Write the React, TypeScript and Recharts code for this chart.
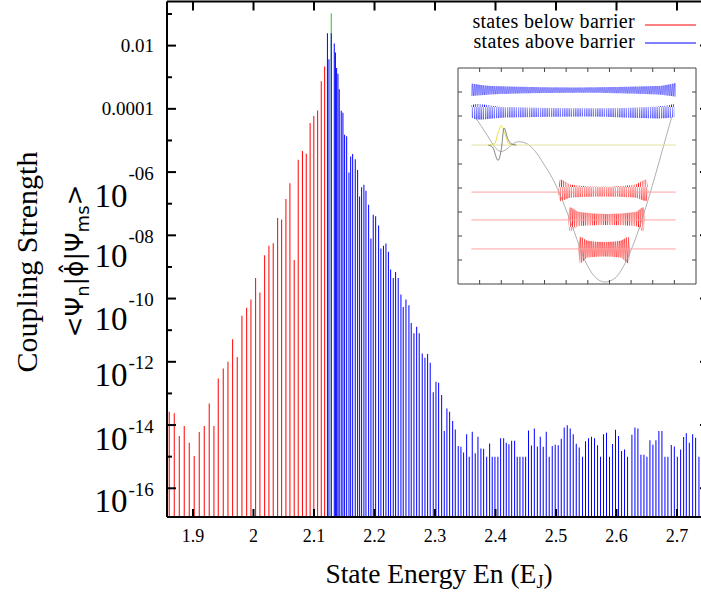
import React from 'react';
import { ComposedChart, Bar, Cell, XAxis, YAxis, Legend, Line, Area } from 'recharts';

const SERIF = '"Liberation Serif", "Times New Roman", serif';
const SANS = '"DejaVu Sans", "Noto Sans", sans-serif';

// ---------------- main chart data: [energy (E_J), log10(coupling strength)] ----------------
const metastableState: [number, number][] = [[2.1286, -0.98]];

const belowBarrier: [number, number][] = [
  [1.8608, -13.58], [1.8691, -13.63], [1.8774, -14.35], [1.8856, -14.03], [1.8939, -14.56],
  [1.9021, -14.98], [1.9104, -14.22], [1.9187, -14.03], [1.9269, -13.32], [1.9347, -14.03],
  [1.9418, -12.53], [1.9501, -12.21], [1.9579, -12.0], [1.9656, -11.29], [1.9732, -11.85],
  [1.981, -10.54], [1.9888, -10.29], [1.9959, -10.03], [2.0036, -9.35], [2.0107, -9.81],
  [2.0185, -8.63], [2.0256, -8.33], [2.0327, -8.25], [2.04, -7.45], [2.0466, -7.5],
  [2.0537, -6.85], [2.0603, -6.35], [2.0674, -8.78], [2.074, -5.61], [2.081, -5.33],
  [2.0873, -5.42], [2.0937, -4.45], [2.0998, -4.23], [2.1061, -4.05], [2.1121, -3.13],
  [2.1177, -2.66],
];

const aboveBarrier: [number, number][] = [
  [2.1223, -1.61], [2.1248, -2.43], [2.1286, -1.61], [2.1336, -1.93], [2.1355, -2.22],
  [2.1375, -2.71], [2.1397, -2.89], [2.1418, -3.38], [2.1451, -4.06], [2.1479, -4.12],
  [2.1507, -4.82], [2.1541, -4.87], [2.1579, -6.01], [2.1607, -5.51], [2.164, -5.43],
  [2.1683, -5.59], [2.1722, -5.93], [2.1755, -6.77], [2.1788, -6.48], [2.1826, -6.4],
  [2.186, -6.59], [2.1904, -7.03], [2.1942, -8.1], [2.198, -7.35], [2.202, -7.4],
  [2.2069, -7.69], [2.2107, -8.42], [2.2149, -8.33], [2.219, -8.26], [2.2231, -8.52],
  [2.2268, -9.08], [2.2311, -9.35], [2.235, -9.16], [2.2393, -9.35], [2.2438, -9.87],
  [2.2476, -10.27], [2.2521, -10.03], [2.257, -10.21], [2.2608, -10.77], [2.2653, -11.1],
  [2.2698, -10.89], [2.274, -11.1], [2.279, -11.74], [2.2835, -11.87], [2.2879, -11.75],
  [2.2922, -12.03], [2.2972, -12.96], [2.3017, -12.63], [2.3061, -12.66], [2.3111, -13.05],
  [2.3154, -14.19], [2.3198, -13.48], [2.3243, -13.58], [2.3293, -13.87], [2.3336, -14.14],
  [2.3385, -14.66], [2.343, -14.69], [2.3474, -14.87], [2.3524, -14.29], [2.3567, -15.0],
  [2.3617, -14.21], [2.3666, -14.89], [2.3711, -14.37], [2.376, -14.74], [2.3805, -14.75],
  [2.3855, -15.0], [2.3904, -14.58], [2.3947, -15.0], [2.3992, -15.0], [2.4041, -15.0],
  [2.4086, -14.42], [2.4136, -14.42], [2.4179, -14.56], [2.4223, -14.61], [2.4268, -14.5],
  [2.4317, -14.5], [2.436, -15.0], [2.4405, -15.0], [2.4455, -15.0], [2.4499, -15.0],
  [2.4547, -14.17], [2.4595, -14.65], [2.4643, -14.11], [2.4693, -14.68], [2.4741, -14.37],
  [2.479, -14.69], [2.484, -14.21], [2.4889, -15.0], [2.4939, -14.66], [2.4988, -14.62],
  [2.5038, -14.64], [2.5088, -14.43], [2.5137, -14.08], [2.5187, -14.01], [2.5236, -14.11],
  [2.5286, -14.29], [2.5336, -14.59], [2.5385, -14.71], [2.544, -15.0], [2.5489, -14.51],
  [2.5539, -14.42], [2.5588, -14.37], [2.5638, -14.42], [2.5688, -14.64], [2.5737, -15.0],
  [2.5787, -14.29], [2.5836, -14.24], [2.5886, -15.0], [2.5936, -14.6], [2.5985, -14.15],
  [2.6035, -14.35], [2.6085, -14.82], [2.6134, -14.77], [2.6184, -15.0], [2.6256, -14.31],
  [2.6306, -14.08], [2.6355, -14.11], [2.6405, -14.94], [2.6455, -14.94], [2.6504, -15.0],
  [2.6554, -14.48], [2.6603, -14.62], [2.6653, -14.48], [2.6702, -14.19], [2.6752, -14.19],
  [2.6802, -15.0], [2.6851, -15.0], [2.6907, -14.63], [2.6957, -14.68], [2.7007, -15.0],
  [2.7061, -14.77], [2.7111, -14.38], [2.7155, -14.26], [2.7205, -14.56], [2.726, -14.29],
  [2.7309, -14.4], [2.7364, -15.0],
];

const energyTicks = [1.9, 2.0, 2.1, 2.2, 2.3, 2.4, 2.5, 2.6, 2.7];
const energyTickLabels = ['1.9', '2', '2.1', '2.2', '2.3', '2.4', '2.5', '2.6', '2.7'];
const couplingTickExponents = [-1, -2, -3, -4, -5, -6, -7, -8, -9, -10, -11, -12, -13, -14, -15, -16];
const couplingTickLabels = ['', '0.01', '', '0.0001', '', '10^-06', '', '10^-08', '', '10^-10', '', '10^-12', '', '10^-14', '', '10^-16'];

const seriesLabels = ['states below barrier', 'states above barrier'];
const seriesColors: Record<string, string> = { ms: '#22cc22', below: '#ff0000', above: '#0000ff' };

// vertical offset of the "10" base below its tick, per power label (styling)
const powerBaseDy: Record<string, number> = { '-06': 35, '-08': 32, '-10': 31, '-12': 24, '-14': 25, '-16': 24 };

// ---------------- inset data (schematic potential and wavefunctions) ----------------
const insetXTicks = [1, 2, 3, 4, 5, 6, 7, 8, 9, 10];
const insetYTicks = [1, 2, 3, 4, 5, 6, 7, 8];
const potentialCurve: [number, number][] = [
  [0.77, 6.97], [1.1, 6.55], [1.45, 6.05], [1.75, 5.65], [2.0, 5.52], [2.25, 5.62], [2.55, 5.85],
  [2.8, 5.93], [3.1, 5.88], [3.5, 5.6], [4.0, 4.95], [4.48, 4.2], [4.94, 3.22], [5.4, 2.11],
  [5.79, 1.14], [6.33, 0.3], [6.79, 0.08], [7.25, 0.24], [7.72, 0.86], [8.18, 1.83], [8.64, 3.08],
  [9.1, 4.47], [9.49, 5.72], [9.88, 6.97],
];
const metastableLevel = 5.79;
const lowLevels = [3.83, 2.67, 1.46];
const levelSpan = [0.62, 10.06];
const redBands: [number, number, number][][] = [
  [[4.63, 3.83, 3.83], [4.72, 3.45, 4.35], [5.2, 3.6, 4.15], [6.7, 3.65, 4.05], [8.2, 3.6, 4.15], [8.7, 3.45, 4.35], [8.8, 3.83, 3.83]],
  [[5.09, 2.67, 2.67], [5.17, 2.2, 3.2], [5.6, 2.42, 3.0], [6.9, 2.46, 2.92], [8.2, 2.42, 3.0], [8.57, 2.2, 3.2], [8.64, 2.67, 2.67]],
  [[5.56, 1.46, 1.46], [5.64, 0.86, 1.97], [6.0, 1.1, 1.8], [6.75, 1.15, 1.75], [7.5, 1.1, 1.8], [7.88, 0.86, 1.97], [7.95, 1.46, 1.46]],
];
const blueBands: [number, number, number][][] = [
  [[0.62, 7.83, 8.35], [1.5, 7.9, 8.25], [5.5, 7.97, 8.19], [9.2, 7.9, 8.25], [10.06, 7.8, 8.38]],
  [[0.62, 6.95, 7.45], [0.9, 6.85, 7.5], [2.0, 6.93, 7.38], [6.0, 6.98, 7.32], [9.3, 6.9, 7.4], [10.0, 6.95, 7.5]],
];
const msWaveYellow: [number, number][] = [[1.45, 5.79], [1.7, 5.85], [1.85, 6.3], [2.0, 6.6], [2.15, 6.3], [2.35, 5.85], [2.6, 5.79]];
const msWaveGray: [number, number][] = [[1.4, 5.79], [1.6, 5.7], [1.85, 5.15], [2.0, 5.6], [2.13, 6.5], [2.3, 6.05], [2.5, 5.82], [2.7, 5.79]];

// ---------------- derived tables ----------------
type Row = { energy: number; coupling: number; group: string };
const toRows = (pairs: [number, number][], group: string): Row[] =>
  pairs.map(([energy, logC]) => ({ energy, coupling: Math.pow(10, logC), group }));
const tableData: Row[] = [
  ...toRows(metastableState, 'ms'),
  ...toRows(belowBarrier, 'below'),
  ...toRows(aboveBarrier, 'above'),
];
const couplingTicks = couplingTickExponents.map((e) => Math.pow(10, e));
const X_DOMAIN: [number, number] = [1.857, 2.7529];
const Y_DOMAIN: [number, number] = [Math.pow(10, -16.908), Math.pow(10, -0.605)];

const pts = (arr: [number, number][]) => arr.map(([x, y]) => ({ x, y }));
const bandPts = (arr: [number, number, number][]) => arr.map(([x, lo, hi]) => ({ x, range: [lo, hi] }));
const hLine = (level: number) => [{ x: levelSpan[0], y: level }, { x: levelSpan[1], y: level }];

// ---------------- tick renderers ----------------
const labelForExp = (v: number) => {
  const e = Math.round(Math.log10(v));
  const i = couplingTickExponents.indexOf(e);
  return i >= 0 ? couplingTickLabels[i] : '';
};

const XTickBottom = (props: any) => {
  const { x, y, payload } = props;
  const i = energyTicks.findIndex((t) => Math.abs(t - payload.value) < 1e-9);
  return (
    <g>
      <line x1={x} x2={x} y1={y} y2={y - 8} stroke="#000" strokeWidth={2} />
      <text x={x} y={y + 25} textAnchor="middle" fontFamily={SERIF} fontSize={18} fill="#000">
        {i >= 0 ? energyTickLabels[i] : ''}
      </text>
    </g>
  );
};

const XTickTop = (props: any) => {
  const { x, y } = props;
  return <line x1={x} x2={x} y1={y} y2={y + 9} stroke="#000" strokeWidth={2} />;
};

const YTickLeft = (props: any) => {
  const { x, y, payload } = props;
  const label = labelForExp(payload.value);
  const major = label !== '';
  let text: React.ReactNode = null;
  if (label.startsWith('10^')) {
    const sup = label.slice(3);
    text = (
      <>
        <text x={x - 39.5} y={y + (powerBaseDy[sup] ?? 30)} textAnchor="end" fontFamily={SERIF} fontSize={33} fill="#000">10</text>
        <text x={x - 38.5} y={y + 7.5} textAnchor="start" fontFamily={SERIF} fontSize={19} fill="#000">{sup}</text>
      </>
    );
  } else if (label) {
    text = (
      <text x={x - 13} y={y + 6.5} textAnchor="end" fontFamily={SERIF} fontSize={19} fill="#000">{label}</text>
    );
  }
  return (
    <g>
      <line x1={x} x2={x + (major ? 9 : 5)} y1={y} y2={y} stroke="#000" strokeWidth={2} />
      {text}
    </g>
  );
};

const YTickRight = (props: any) => {
  const { x, y, payload } = props;
  const major = labelForExp(payload.value) !== '';
  return <line x1={x} x2={x - (major ? 9 : 5)} y1={y} y2={y} stroke="#000" strokeWidth={2} />;
};

const XTitle = () => (
  <text x={439} y={583} textAnchor="middle" fontFamily={SERIF} fontSize={27.5} fill="#000">
    State Energy En (E<tspan fontSize={18} dy={5}>J</tspan><tspan dy={-5}>)</tspan>
  </text>
);

const YTitle = () => (
  <g>
    <text transform="rotate(-90 37 262)" x={37} y={262} textAnchor="middle" fontFamily={SERIF} fontSize={30} fill="#000">
      Coupling Strength
    </text>
    <text transform="rotate(-90 83 261)" x={83} y={261} textAnchor="middle" fontFamily={SANS} fontSize={25} fill="#000">
      {'<\u03A8'}
      <tspan fontSize={18} dy={6}>n</tspan>
      <tspan dy={-6}>{'|\u03D5\u0302|\u03A8'}</tspan>
      <tspan fontSize={18} dy={6}>ms</tspan>
      <tspan dy={-6}>{'>'}</tspan>
    </text>
  </g>
);

const LegendBox = () => (
  <svg width={250} height={60} style={{ display: 'block', overflow: 'visible' }}>
    {seriesLabels.map((label, i) => (
      <g key={label}>
        <text x={180} y={28 + i * 20} textAnchor="end" fontFamily={SERIF} fontSize={20} letterSpacing={0.3} fill="#000">
          {label}
        </text>
        <line x1={190} x2={241} y1={25 + i * 18} y2={25 + i * 18} stroke={i === 0 ? seriesColors.below : seriesColors.above} strokeWidth={1} />
      </g>
    ))}
  </svg>
);

// inset tick renderers
const ITB = (p: any) => <line x1={p.x} x2={p.x} y1={p.y} y2={p.y - 4} stroke="#444" strokeWidth={1} />;
const ITT = (p: any) => <line x1={p.x} x2={p.x} y1={p.y} y2={p.y + 4} stroke="#444" strokeWidth={1} />;
const ITL = (p: any) => <line x1={p.x} x2={p.x + 4} y1={p.y} y2={p.y} stroke="#444" strokeWidth={1} />;
const ITR = (p: any) => <line x1={p.x} x2={p.x - 4} y1={p.y} y2={p.y} stroke="#444" strokeWidth={1} />;

const Inset = () => (
  <ComposedChart width={240} height={218} margin={{ top: 0, right: 0, bottom: 0, left: 0 }} style={{ background: '#fff' }}>
    <defs>
      <pattern id="redWave" patternUnits="userSpaceOnUse" width={2.2} height={40}>
        <path d="M0,0 L1.1,40 L2.2,0" stroke="#ff0000" strokeWidth={0.6} fill="none" />
      </pattern>
      <pattern id="blueWave" patternUnits="userSpaceOnUse" width={2.2} height={40}>
        <path d="M0,0 L1.1,40 L2.2,0" stroke="#0000ff" strokeWidth={0.6} fill="none" />
      </pattern>
    </defs>
    <XAxis type="number" dataKey="x" domain={[0, 11]} allowDataOverflow ticks={insetXTicks} interval={0} height={1}
      tickSize={0} tickMargin={0} tickLine={false} tick={ITB} axisLine={{ stroke: '#444', strokeWidth: 1 }} />
    <XAxis xAxisId="top" orientation="top" type="number" dataKey="x" domain={[0, 11]} allowDataOverflow ticks={insetXTicks} interval={0} height={1}
      tickSize={0} tickMargin={0} tickLine={false} tick={ITT} axisLine={{ stroke: '#444', strokeWidth: 1 }} />
    <YAxis type="number" domain={[0, 9]} allowDataOverflow ticks={insetYTicks} interval={0} width={1}
      tickSize={0} tickMargin={0} tickLine={false} tick={ITL} axisLine={{ stroke: '#444', strokeWidth: 1 }} />
    <YAxis yAxisId="right" orientation="right" type="number" domain={[0, 9]} allowDataOverflow ticks={insetYTicks} interval={0} width={1}
      tickSize={0} tickMargin={0} tickLine={false} tick={ITR} axisLine={{ stroke: '#444', strokeWidth: 1 }} />
    <Line data={pts(potentialCurve)} dataKey="y" type="monotone" stroke="#9a9a9a" strokeWidth={0.8} dot={false} isAnimationActive={false} />
    <Line data={hLine(metastableLevel)} dataKey="y" stroke="#e2e2a0" strokeWidth={1} dot={false} isAnimationActive={false} />
    {lowLevels.map((lv) => (
      <Line key={lv} data={hLine(lv)} dataKey="y" stroke="#ffa0a0" strokeWidth={1} dot={false} isAnimationActive={false} />
    ))}
    {redBands.map((b, i) => (
      <Area key={'r' + i} data={bandPts(b)} dataKey="range" type="monotone" stroke="none" fill="url(#redWave)" fillOpacity={1} isAnimationActive={false} />
    ))}
    {blueBands.map((b, i) => (
      <Area key={'b' + i} data={bandPts(b)} dataKey="range" type="monotone" stroke="none" fill="url(#blueWave)" fillOpacity={1} isAnimationActive={false} />
    ))}
    <Line data={pts(msWaveYellow)} dataKey="y" type="monotone" stroke="#e8e040" strokeWidth={1} dot={false} isAnimationActive={false} />
    <Line data={pts(msWaveGray)} dataKey="y" type="monotone" stroke="#666" strokeWidth={0.8} dot={false} isAnimationActive={false} />
  </ComposedChart>
);

export default function App() {
  return (
    <div style={{ position: 'absolute', left: 0, top: 0, width: 701, height: 596, overflow: 'hidden', background: '#fff' }}>
      <ComposedChart width={710} height={596} data={tableData} margin={{ top: 0.5, right: 0, bottom: 0, left: 0 }}>
        <XAxis type="number" dataKey="energy" domain={X_DOMAIN} allowDataOverflow ticks={energyTicks} interval={0}
          height={79} tickSize={0} tickMargin={0} tickLine={false} tick={XTickBottom}
          axisLine={{ stroke: '#000', strokeWidth: 2 }} label={{ content: () => <XTitle /> }} />
        <XAxis xAxisId="top" orientation="top" type="number" dataKey="energy" domain={X_DOMAIN} allowDataOverflow ticks={energyTicks} interval={0}
          height={1} tickSize={0} tickMargin={0} tickLine={false} tick={XTickTop}
          axisLine={{ stroke: '#000', strokeWidth: 2 }} />
        <YAxis scale="log" type="number" domain={Y_DOMAIN} allowDataOverflow ticks={couplingTicks} interval={0}
          width={167} tickSize={0} tickMargin={0} tickLine={false} tick={YTickLeft}
          axisLine={{ stroke: '#000', strokeWidth: 2 }} label={{ content: () => <YTitle /> }} />
        <YAxis yAxisId="right" orientation="right" scale="log" type="number" domain={Y_DOMAIN} allowDataOverflow ticks={couplingTicks} interval={0}
          width={1} tickSize={0} tickMargin={0} tickLine={false} tick={YTickRight}
          axisLine={{ stroke: '#000', strokeWidth: 2 }} />
        <Bar dataKey="coupling" barSize={1} isAnimationActive={false} legendType="none">
          {tableData.map((d, i) => (
            <Cell key={i} fill={seriesColors[d.group]} />
          ))}
        </Bar>
        <Legend layout="vertical" align="center" verticalAlign="middle" width={250} height={60}
          wrapperStyle={{ left: 455, top: 0, width: 250, height: 60 }} content={() => <LegendBox />} />
      </ComposedChart>
      <div style={{ position: 'absolute', left: 457, top: 67 }}>
        <Inset />
      </div>
    </div>
  );
}
